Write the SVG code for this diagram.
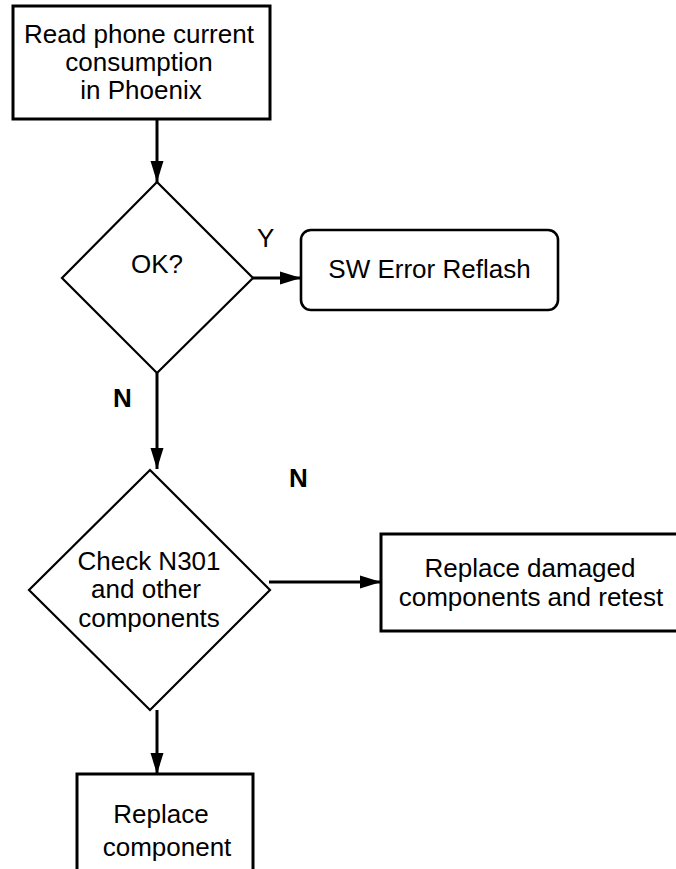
<svg xmlns="http://www.w3.org/2000/svg" width="676" height="869" viewBox="0 0 676 869">
<style>
.box{fill:#fff;stroke:#000;stroke-width:3}
.dia{fill:#fff;stroke:#000;stroke-width:2.2}
.t{font-family:"Liberation Sans",Arial,sans-serif;font-size:26px;fill:#000;text-anchor:middle}
.lbl{font-family:"Liberation Sans",Arial,sans-serif;font-size:26px;fill:#000}
.ln{fill:none;stroke:#000;stroke-width:3}
</style>
<defs>
<marker id="ah" markerWidth="21" markerHeight="14" refX="21" refY="7" orient="auto" markerUnits="userSpaceOnUse">
<path d="M0,0.5 L21,7 L0,13.5 Z" fill="#000"/>
</marker>
</defs>
<rect width="676" height="869" fill="#fff"/>
<g id="connectors">
<line class="ln" x1="157" y1="119" x2="157" y2="182" marker-end="url(#ah)"/>
<line class="ln" x1="253" y1="278" x2="301" y2="278" marker-end="url(#ah)"/>
<line class="ln" x1="157" y1="373" x2="157" y2="469" marker-end="url(#ah)"/>
<line class="ln" x1="269" y1="582" x2="381" y2="582" marker-end="url(#ah)"/>
<line class="ln" x1="157" y1="710" x2="157" y2="774" marker-end="url(#ah)"/>
<text class="lbl" x="257" y="247">Y</text>
<text class="lbl" x="113" y="407" font-weight="bold">N</text>
<text class="lbl" x="289" y="487" font-weight="bold">N</text>
</g>
<g id="read">
<rect class="box" x="13" y="6" width="257" height="113"/>
<text class="t" x="139" y="43">Read phone current</text>
<text class="t" x="139" y="71">consumption</text>
<text class="t" x="141" y="99">in Phoenix</text>
</g>
<g id="ok">
<polygon class="dia" points="157,182 253,278 157,373 62,278"/>
<text class="t" x="157" y="273">OK?</text>
</g>
<g id="reflash">
<rect class="box" x="301" y="230" width="257" height="80" rx="10" ry="10" style="stroke-width:2.6"/>
<text class="t" x="429.5" y="278">SW Error Reflash</text>
</g>
<g id="check">
<polygon class="dia" points="150,470 270,590 150,710 29,590"/>
<text class="t" x="149" y="570">Check N301</text>
<text class="t" x="146" y="598">and other</text>
<text class="t" x="149" y="627">components</text>
</g>
<g id="damaged">
<rect class="box" x="381" y="534" width="300" height="97"/>
<text class="t" x="530" y="577">Replace damaged</text>
<text class="t" x="531" y="606">components and retest</text>
</g>
<g id="replace">
<rect class="box" x="77" y="774" width="176" height="110"/>
<text class="t" x="161" y="823">Replace</text>
<text class="t" x="167" y="856">component</text>
</g>
</svg>
